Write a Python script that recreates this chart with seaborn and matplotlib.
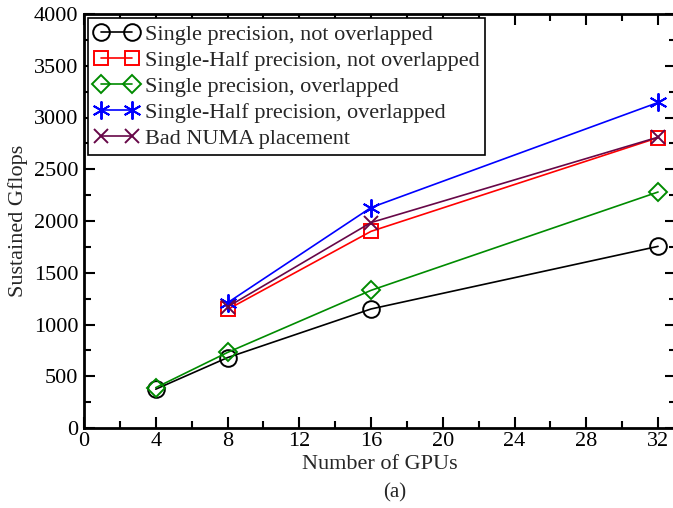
import matplotlib
matplotlib.use("Agg")
import matplotlib.pyplot as plt
import seaborn as sns
import pandas as pd
from matplotlib.ticker import MultipleLocator

sns.set_style("ticks")
plt.rcParams['font.family'] = ['Liberation Serif', 'DejaVu Serif']

labels = ["Single precision, not overlapped",
          "Single-Half precision, not overlapped",
          "Single precision, overlapped",
          "Single-Half precision, overlapped",
          "Bad NUMA placement"]

x_sp_no = [4, 8, 16, 32]
y_sp_no = [375, 680, 1150, 1755]
x_sh_no = [8, 16, 32]
y_sh_no = [1145, 1900, 2805]
x_sp_ov = [4, 8, 16, 32]
y_sp_ov = [390, 730, 1330, 2280]
x_sh_ov = [8, 16, 32]
y_sh_ov = [1210, 2130, 3145]
x_numa = [8, 16, 32]
y_numa = [1170, 1985, 2810]

colors = ["black", "red", "#008b00", "blue", "#670748"]
markers = ["o", "s", "D", (6, 2, 0), "x"]
msizes = [12, 10.5, 9.5, 13, 10]
xs = [x_sp_no, x_sh_no, x_sp_ov, x_sh_ov, x_numa]
ys = [y_sp_no, y_sh_no, y_sp_ov, y_sh_ov, y_numa]

fig = plt.figure(figsize=(6.73, 5.08), dpi=100)
ax = fig.add_axes([84/673, 80/508, 592/673, 414/508])

for lab, x, y, c, m, ms in zip(labels, xs, ys, colors, markers, msizes):
    df = pd.DataFrame({"x": x, "y": y})
    sns.lineplot(data=df, x="x", y="y", ax=ax, color=c, marker=m,
                 markersize=ms, markerfacecolor="none", markeredgecolor=c,
                 markeredgewidth=1.4, linewidth=1.2, label=lab)

ax.set_xlim(0, 33)
ax.set_ylim(0, 4000)
ax.xaxis.set_major_locator(MultipleLocator(4))
ax.xaxis.set_minor_locator(MultipleLocator(2))
ax.yaxis.set_major_locator(MultipleLocator(500))
ax.yaxis.set_minor_locator(MultipleLocator(250))
ax.tick_params(which="both", direction="in", top=True, right=True,
               width=1.5, labelsize=16, colors="black")
ax.tick_params(which="major", length=8)
ax.tick_params(axis="x", which="major", pad=3)
ax.tick_params(axis="y", which="major", pad=4)
ax.tick_params(which="minor", length=5)
for s in ax.spines.values():
    s.set_linewidth(2)
    s.set_color("black")

ax.set_xlabel("Number of GPUs", fontsize=16, labelpad=3)
ax.set_ylabel("Sustained Gflops", fontsize=16, labelpad=4)

leg = ax.legend(loc="upper left", numpoints=2, handlelength=2.0,
                fontsize=16, frameon=True, fancybox=False,
                borderaxespad=0.2, borderpad=0.25, labelspacing=0.25,
                handletextpad=0.3)
leg.get_frame().set_edgecolor("black")
leg.get_frame().set_linewidth(1.2)
leg.get_frame().set_alpha(1)

fig.text(395/673, 1 - 493/508, "(a)", ha="center", va="center", fontsize=15)

fig.savefig("out.png", dpi=100)
